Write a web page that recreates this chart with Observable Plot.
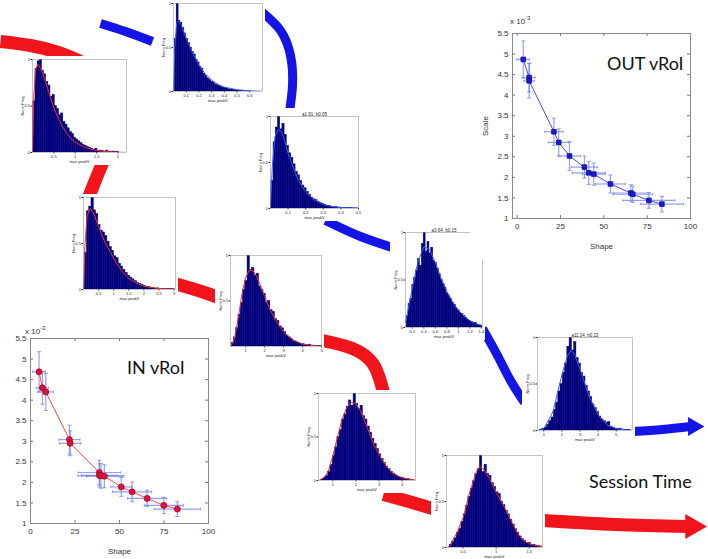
<!DOCTYPE html>
<html><head><meta charset="utf-8">
<script src="https://cdn.jsdelivr.net/npm/d3@7"></script>
<script src="https://cdn.jsdelivr.net/npm/@observablehq/plot@0.6"></script>
<style>
body{margin:0;background:#fff}
#fig{position:relative;width:708px;height:559px;overflow:hidden;background:#fff;font-family:Lato,"Open Sans",sans-serif}
#fig > *{position:absolute}
.t{color:#111;white-space:nowrap}
</style></head><body><div id="fig"></div>
<script>
// ---------- scatter data: IN vRoI ----------
const inShape    = [4.8,6.7,8.6,21.9,22.3,38.7,38.7,39.6,41.5,51,57.1,65.5,74.9,82.5];
const inScale    = [4.69,4.3,4.2,3.04,2.95,2.24,2.17,2.16,2.15,1.89,1.77,1.61,1.44,1.35];
const inShapeErr = [3.6,3.5,4.4,5.9,6,12,10,13,10,6,11,11,11,13];
const inScaleErr = [0.49,0.4,0.45,0.35,0.3,0.3,0.28,0.3,0.28,0.23,0.24,0.2,0.2,0.18];
// ---------- scatter data: OUT vRoI ----------
const outShape    = [3.5,6.9,6.9,21.2,24,30.2,38.8,41.3,44.2,53.8,65.6,66.7,76,83.5];
const outScale    = [4.87,4.43,4.35,3.11,2.85,2.52,2.25,2.11,2.08,1.84,1.62,1.59,1.44,1.35];
const outShapeErr = [3.7,3.5,3,5.3,6,6.3,7.7,9.6,6.7,8.7,10,11.5,15,12.5];
const outScaleErr = [0.45,0.35,0.42,0.33,0.33,0.35,0.27,0.28,0.27,0.22,0.2,0.2,0.19,0.19];
const shapeTicks = [0,25,50,75,100];
const scaleTicks = [1,1.5,2,2.5,3,3.5,4,4.5,5,5.5];

// ---------- histogram data (normalised frequency per bin) ----------
const h1 = {start:0.02, step:0.05, heights:[0.55,0.9,0.98,1.0,0.88,0.84,0.76,0.72,0.6,0.62,0.5,0.47,0.4,0.42,0.33,0.3,0.26,0.22,0.2,0.16,0.14,0.12,0.1,0.08,0.07,0.06,0.05,0.04,0.03,0.04,0.02,0.02,0.015,0.01,0.02,0.01,0.005,0.01,0.005,0.005],
  curve:[[0,0],[0.03,0.6],[0.07,0.88],[0.12,0.95],[0.2,0.9],[0.3,0.77],[0.4,0.62],[0.5,0.48],[0.6,0.37],[0.7,0.28],[0.8,0.21],[0.9,0.15],[1.0,0.11],[1.2,0.06],[1.4,0.03],[1.6,0.015],[1.8,0.007],[2.0,0.003],[2.2,0.001]]};
const h2 = {start:0.01, step:0.015, heights:[0.6,1.0,0.8,0.78,0.72,0.66,0.6,0.55,0.5,0.45,0.42,0.36,0.33,0.28,0.26,0.2,0.18,0.15,0.13,0.11,0.1,0.08,0.07,0.06,0.05,0.04,0.04,0.03,0.025,0.02,0.02,0.015,0.01,0.012,0.008,0.006,0.005,0.004,0.003,0.002],
  curve:[[0,0],[0.01,0.5],[0.025,0.78],[0.04,0.8],[0.06,0.76],[0.1,0.6],[0.15,0.44],[0.2,0.3],[0.25,0.2],[0.3,0.13],[0.35,0.08],[0.4,0.05],[0.5,0.02],[0.6,0.007],[0.7,0.002]]};
const h3 = {start:0.005, step:0.0125, heights:[0.3,0.72,0.88,1.0,0.86,0.92,0.8,0.68,0.6,0.55,0.48,0.4,0.36,0.3,0.25,0.22,0.18,0.15,0.12,0.1,0.09,0.07,0.06,0.05,0.04,0.03,0.03,0.02,0.015,0.015,0.01,0.01,0.008,0.005,0.004,0.006,0.003,0.002,0.002,0.001],
  curve:[[0,0],[0.01,0.45],[0.025,0.78],[0.045,0.86],[0.06,0.84],[0.08,0.74],[0.1,0.6],[0.13,0.44],[0.16,0.3],[0.2,0.18],[0.25,0.09],[0.3,0.045],[0.35,0.02],[0.4,0.01],[0.5,0.002]]};
const h4 = {start:0.04, step:0.075, heights:[0.4,0.85,0.9,1.0,0.86,0.82,0.7,0.64,0.62,0.58,0.52,0.46,0.42,0.36,0.34,0.28,0.25,0.21,0.18,0.15,0.13,0.11,0.09,0.07,0.06,0.05,0.04,0.03,0.025,0.02,0.015,0.01,0.012,0.008,0.006,0.005,0.004,0.003,0.004,0.002],
  curve:[[0,0],[0.05,0.5],[0.12,0.8],[0.22,0.88],[0.35,0.82],[0.5,0.68],[0.7,0.52],[0.9,0.4],[1.1,0.28],[1.3,0.19],[1.5,0.12],[1.75,0.07],[2.0,0.035],[2.5,0.01],[3.05,0.002]]};
const h5 = {start:0.26, step:0.12, heights:[0.04,0.1,0.2,0.35,0.48,0.62,0.72,1.0,0.84,0.86,0.78,0.8,0.66,0.62,0.58,0.48,0.5,0.4,0.38,0.3,0.28,0.22,0.2,0.16,0.12,0.1,0.08,0.06,0.05,0.04,0.03,0.025,0.02,0.015,0.02,0.01,0.008,0.005,0.004,0.003],
  curve:[[0.2,0],[0.4,0.08],[0.6,0.3],[0.8,0.57],[1.0,0.76],[1.2,0.84],[1.4,0.83],[1.6,0.76],[1.8,0.66],[2.0,0.55],[2.25,0.42],[2.5,0.32],[2.75,0.23],[3.0,0.16],[3.5,0.07],[4.0,0.028],[4.5,0.01],[5.0,0.003]]};
const h6 = {start:0.1, step:0.033, heights:[0.12,0.25,0.3,0.45,0.52,0.6,0.72,0.65,0.88,1.0,0.8,0.9,0.78,0.84,0.7,0.68,0.62,0.56,0.5,0.46,0.42,0.36,0.33,0.3,0.26,0.24,0.2,0.18,0.15,0.14,0.12,0.1,0.08,0.07,0.06,0.05,0.05,0.03,0.02,0.02],
  curve:[[0.08,0.05],[0.2,0.42],[0.3,0.7],[0.4,0.85],[0.5,0.82],[0.6,0.68],[0.7,0.52],[0.8,0.38],[0.9,0.27],[1.0,0.18],[1.1,0.12],[1.2,0.07],[1.3,0.04],[1.42,0.02]]};
const h7 = {start:0.8, step:0.125, heights:[0.01,0.02,0.03,0.06,0.1,0.14,0.22,0.3,0.42,0.5,0.62,0.72,0.9,1.0,0.86,0.95,0.78,0.72,0.62,0.58,0.48,0.42,0.36,0.28,0.24,0.2,0.15,0.12,0.1,0.08,0.09,0.04,0.03,0.02,0.015,0.02,0.01,0.008,0.005,0.004],
  curve:[[0.7,0],[1.0,0.02],[1.5,0.2],[2.0,0.6],[2.3,0.8],[2.5,0.86],[2.7,0.82],[3.0,0.66],[3.5,0.37],[4.0,0.17],[4.5,0.06],[5.0,0.02],[5.5,0.005],[5.9,0.001]]};
const h8 = {start:0.5, step:0.1, heights:[0.01,0.03,0.05,0.1,0.18,0.28,0.38,0.5,0.58,0.7,0.76,0.85,0.92,0.86,1.0,0.88,0.82,0.86,0.74,0.7,0.62,0.55,0.48,0.42,0.36,0.3,0.25,0.2,0.16,0.13,0.1,0.08,0.06,0.04,0.035,0.03,0.02,0.015,0.01,0.008],
  curve:[[0.4,0],[0.6,0.03],[0.8,0.1],[1.0,0.28],[1.2,0.5],[1.4,0.7],[1.6,0.84],[1.8,0.9],[2.0,0.88],[2.2,0.8],[2.5,0.6],[2.8,0.4],[3.0,0.3],[3.3,0.17],[3.6,0.08],[4.0,0.03],[4.58,0.005]]};
const h9 = {start:0.3, step:0.035, heights:[0.03,0.06,0.1,0.16,0.2,0.28,0.36,0.45,0.55,0.64,0.72,0.8,0.85,1.0,0.82,0.9,0.8,0.78,0.7,0.66,0.6,0.58,0.5,0.46,0.4,0.36,0.3,0.25,0.2,0.16,0.12,0.09,0.07,0.05,0.05,0.03,0.03,0.02,0.015,0.01],
  curve:[[0.26,0],[0.3,0.02],[0.4,0.15],[0.5,0.32],[0.6,0.6],[0.7,0.82],[0.75,0.88],[0.8,0.86],[0.9,0.75],[1.0,0.6],[1.1,0.47],[1.2,0.33],[1.3,0.18],[1.4,0.08],[1.5,0.04],[1.6,0.02],[1.7,0.01]]};

// ---------- decorative flow arrows (page pixel control points) ----------
const redPaths = [
  [[0,41],[30,45],[58,52],[80,61]],
  [[104,158],[96,177],[88,197]],
  [[174,283],[204,292],[234,303]],
  [[322,340],[352,348],[373,364],[383,392]],
  [[383,494],[415,503],[448,513]],
  [[543,520],[615,524],[688,526]]
];
const bluePaths = [
  [[100,23],[125,31],[152,41]],
  [[262,12],[280,30],[290,55],[292,85],[288,118]],
  [[325,220],[360,236],[398,249]],
  [[482,328],[497,355],[510,380],[524,402]],
  [[632,431],[662,429],[690,426]]
];
const redHead = [[692,526]];
const blueHead = [[693,426]];

const fig = document.getElementById("fig");
function place(el, left, top){ el.style.left = left+"px"; el.style.top = top+"px"; fig.appendChild(el); return el; }
function label(html, left, top, size, extra){ const d=document.createElement("div"); d.className="t"; d.innerHTML=html; d.style.fontSize=size+"px"; if(extra) Object.assign(d.style, extra); return place(d,left,top); }

// arrows layer
const RED="#f2141b", BLUE="#1414e6";
const arrowMarks = [];
redPaths.forEach(p=>arrowMarks.push(Plot.line(p,{x:d=>d[0],y:d=>d[1],stroke:RED,strokeWidth:13,curve:"natural",strokeLinecap:"butt"})));
bluePaths.forEach(p=>arrowMarks.push(Plot.line(p,{x:d=>d[0],y:d=>d[1],stroke:BLUE,strokeWidth:9,curve:"natural",strokeLinecap:"butt"})));
arrowMarks.push(Plot.dot(redHead,{x:d=>d[0],y:d=>d[1],symbol:"triangle2",r:12,fill:RED,rotate:90}));
arrowMarks.push(Plot.dot(blueHead,{x:d=>d[0],y:d=>d[1],symbol:"triangle2",r:9,fill:BLUE,rotate:90}));
place(Plot.plot({width:708,height:559,margin:0,x:{domain:[0,708],range:[0,708],axis:null},y:{domain:[0,559],range:[0,559],axis:null},marks:arrowMarks}),0,0);

// histograms
const NAVY = "#00007d";
function hist(h, cfg){
  const [L,T,R,B] = cfg.frame;
  const ml=15, mt=cfg.title?8:3, mr=3, mb=13;
  const bars = h.heights.map((v,i)=>({x1:h.start+i*h.step, x2:h.start+(i+1)*h.step, y:v}));
  const p = Plot.plot({
    width:R-L+ml+mr, height:B-T+mt+mb, marginLeft:ml, marginTop:mt, marginRight:mr, marginBottom:mb,
    style:{background:"#fff", fontSize:"4px", fontFamily:"Liberation Sans, sans-serif", color:"#222"},
    x:{domain:cfg.domain, ticks:cfg.ticks, tickSize:1.5, tickPadding:1, tickFormat:d=>String(d), label:"max peakV", labelAnchor:"center", labelArrow:"none", labelOffset:10},
    y:{domain:[0,1], ticks:[0,0.5,1], tickSize:1.5, tickPadding:1, tickFormat:d=>String(d), label:"Norm Freq", labelAnchor:"center", labelArrow:"none", labelOffset:11},
    marks:[
      Plot.rectY(bars,{x1:"x1",x2:"x2",y:"y",fill:NAVY,stroke:NAVY,strokeWidth:0.5,clip:true}),
      Plot.line(h.curve,{x:d=>d[0],y:d=>d[1],stroke:cfg.curve,strokeWidth:1,clip:true}),
      Plot.frame({stroke:"#888",strokeWidth:0.5}),
      cfg.title ? Plot.text([cfg.title],{text:d=>d,frameAnchor:"top",dy:-4,fontSize:4.5}) : null
    ]
  });
  place(p, L-ml, T-mt);
}
const HRED="#ff2a2a", HBLUE="#3b5cff";
hist(h1,{frame:[32,59,126,152],domain:[0,2.2],ticks:[0.5,1,1.5,2],curve:HRED});
hist(h2,{frame:[173,3,262,91],domain:[0,0.7],ticks:[0.1,0.2,0.3,0.4,0.5,0.6],curve:HBLUE});
hist(h3,{frame:[270,116,358,208],domain:[0,0.5],ticks:[0.1,0.2,0.3,0.4,0.5],curve:HBLUE,title:"a1.91, b0.05"});
hist(h4,{frame:[83,197,175,289],domain:[0,3.05],ticks:[0.5,1,1.5,2,2.5,3],curve:HRED});
hist(h5,{frame:[230,255,321,346],domain:[0.2,5],ticks:[1,2,3,4,5],curve:HRED});
hist(h6,{frame:[405,232,482,327],domain:[0.08,1.42],ticks:[0.2,0.4,0.6,0.8,1,1.2,1.4],curve:HBLUE,title:"a3.64, b0.15"});
hist(h7,{frame:[537,337,632,430],domain:[0.65,5.9],ticks:[1,2,3,4,5],curve:HBLUE,title:"a11.24, b0.22"});
hist(h8,{frame:[318,393,415,480],domain:[0.38,4.58],ticks:[1,2,3,4],curve:HRED});
hist(h9,{frame:[446,455,542,547],domain:[0.25,1.7],ticks:[0.5,1,1.5],curve:HRED});

// scatter with error bars
function scatter(shape, scale, sErr, cErr, cfg){
  const rows = shape.map((s,i)=>({s, c:scale[i], se:sErr[i], ce:cErr[i]}));
  const xd = cfg.xdomain;
  const capX = 0.012*(xd[1]-xd[0]), capY = 0.03;
  const tickLenY = 0.07, tickLenX = 0.017*(xd[1]-xd[0]);
  const EB = "#6f80ee";
  const p = Plot.plot({
    width:cfg.w, height:cfg.h, marginLeft:cfg.ml, marginTop:cfg.mt, marginRight:cfg.mr, marginBottom:cfg.mb,
    style:{background:"#fff", fontSize:"8px", fontFamily:"Liberation Sans, sans-serif", color:"#333"},
    x:{domain:xd, ticks:shapeTicks, tickSize:0, tickPadding:5, label:"Shape", labelAnchor:"center", labelArrow:"none", labelOffset:30},
    y:{domain:[1,5.5], ticks:scaleTicks, tickSize:0, tickPadding:4, tickFormat:d=>String(d), label:cfg.ylabel, labelAnchor:"center", labelArrow:"none", labelOffset:30},
    marks:[
      Plot.frame({stroke:"#8a8a8a"}),
      Plot.ruleX(shapeTicks.filter(t=>t>xd[0]&&t<xd[1]),{x:d=>d,y1:1,y2:1+tickLenY,stroke:"#777"}),
      Plot.ruleX(shapeTicks.filter(t=>t>xd[0]&&t<xd[1]),{x:d=>d,y1:5.5,y2:5.5-tickLenY,stroke:"#777"}),
      Plot.ruleY(scaleTicks.filter(t=>t>1&&t<5.5),{y:d=>d,x1:xd[0],x2:xd[0]+tickLenX,stroke:"#777"}),
      Plot.ruleY(scaleTicks.filter(t=>t>1&&t<5.5),{y:d=>d,x1:xd[1],x2:xd[1]-tickLenX,stroke:"#777"}),
      Plot.link(rows,{x1:d=>d.s-d.se,x2:d=>d.s+d.se,y1:"c",y2:"c",stroke:EB,strokeOpacity:0.75,strokeWidth:1.2}),
      Plot.link(rows,{x1:"s",x2:"s",y1:d=>d.c-d.ce,y2:d=>d.c+d.ce,stroke:EB,strokeOpacity:0.75,strokeWidth:1.2}),
      Plot.link(rows,{x1:d=>d.s-capX,x2:d=>d.s+capX,y1:d=>d.c-d.ce,y2:d=>d.c-d.ce,stroke:EB,strokeOpacity:0.75}),
      Plot.link(rows,{x1:d=>d.s-capX,x2:d=>d.s+capX,y1:d=>d.c+d.ce,y2:d=>d.c+d.ce,stroke:EB,strokeOpacity:0.75}),
      Plot.link(rows,{x1:d=>d.s-d.se,x2:d=>d.s-d.se,y1:d=>d.c-capY,y2:d=>d.c+capY,stroke:EB,strokeOpacity:0.75}),
      Plot.link(rows,{x1:d=>d.s+d.se,x2:d=>d.s+d.se,y1:d=>d.c-capY,y2:d=>d.c+capY,stroke:EB,strokeOpacity:0.75}),
      Plot.line(rows,{x:"s",y:"c",stroke:cfg.line,strokeWidth:1}),
      Plot.dot(rows,{x:"s",y:"c",symbol:cfg.symbol,r:cfg.r,fill:cfg.fill,stroke:cfg.stroke,strokeWidth:0.8})
    ]
  });
  place(p, cfg.left, cfg.top);
}
scatter(inShape,inScale,inShapeErr,inScaleErr,{left:0,top:325,w:230,h:234,ml:30,mt:13,mr:22,mb:36,xdomain:[0,100],ylabel:null,line:"#ff4a4a",symbol:"circle",r:3,fill:"#d8143a",stroke:"#b00020"});
scatter(outShape,outScale,outShapeErr,outScaleErr,{left:470,top:20,w:230,h:240,ml:42,mt:13,mr:10,mb:42,xdomain:[-2.7,100],ylabel:"Scale",line:"#4a4af0",symbol:"square",r:2.6,fill:"#1c1cd8",stroke:"#0a0a90"});

// text annotations
label("IN vRoI",127,356,18);
label("OUT vRoI",607,52,18);
label("Session Time",589,470,18);
label("x 10<sup style='font-size:6px'>-3</sup>",25,325,8,{fontFamily:"Liberation Sans, sans-serif",color:"#333"});
label("x 10<sup style='font-size:6px'>-3</sup>",510,15,8,{fontFamily:"Liberation Sans, sans-serif",color:"#333"});
</script></body></html>
